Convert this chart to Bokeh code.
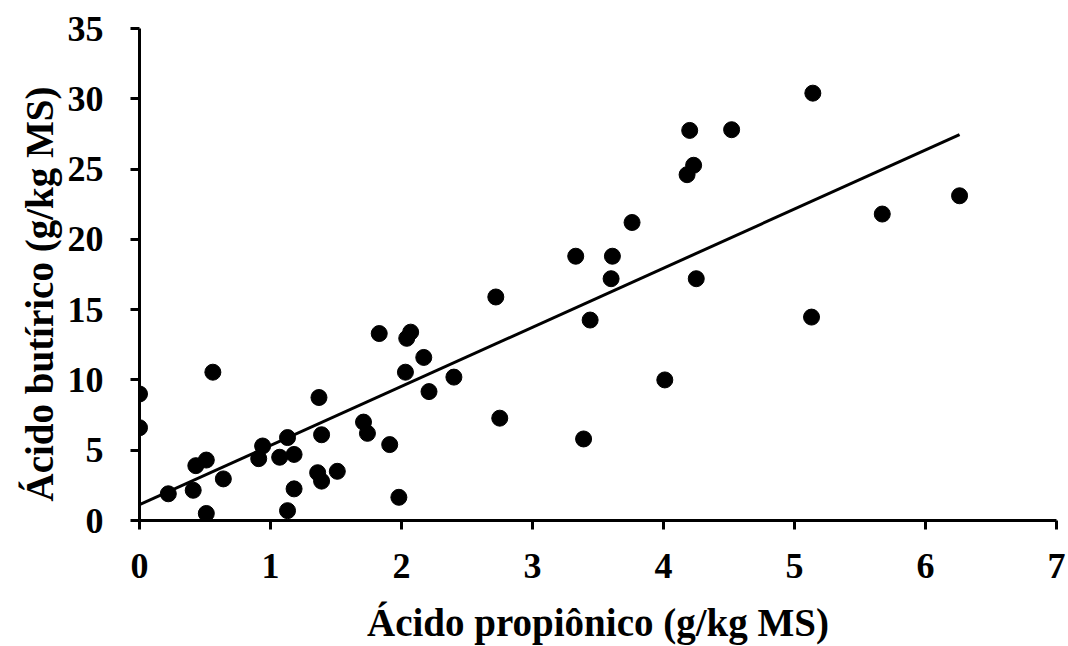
import numpy as np
from bokeh.plotting import figure
from bokeh.models import Range1d, FixedTicker, Title
from bokeh.embed import file_html
from bokeh.resources import INLINE

# Data
propionico = [0.00, 0.00, 0.22, 0.41, 0.43, 0.51, 0.51, 0.56, 0.64, 0.91,
              0.94, 1.07, 1.13, 1.18, 1.13, 1.18, 1.37, 1.36, 1.39, 1.39,
              1.51, 1.71, 1.74, 1.83, 1.91, 1.98, 2.04, 2.07, 2.03, 2.17,
              2.21, 2.40, 2.72, 2.75, 3.33, 3.39, 3.44, 3.60, 3.61, 3.76,
              4.01, 4.18, 4.20, 4.23, 4.25, 4.52, 5.14, 5.13, 5.67, 6.26]
butirico = [9.0, 6.6, 1.9, 2.15, 3.9, 4.3, 0.5, 10.55, 2.96, 4.4,
            5.3, 4.5, 5.9, 4.7, 0.7, 2.25, 8.75, 3.4, 6.1, 2.8,
            3.5, 7.0, 6.2, 13.3, 5.4, 1.65, 12.96, 13.4, 10.55, 11.6,
            9.17, 10.2, 15.9, 7.28, 18.8, 5.8, 14.26, 17.2, 18.8, 21.2,
            10.0, 24.6, 27.75, 25.27, 17.2, 27.8, 30.4, 14.47, 21.8, 23.1]

trend_intercept = 1.13
trend_slope = 4.205

x_ticks = [0, 1, 2, 3, 4, 5, 6, 7]
y_ticks = [0, 5, 10, 15, 20, 25, 30, 35]

x_label = "Ácido propiônico (g/kg MS)"
y_label = "Ácido butírico (g/kg MS)"

FONT = "Liberation Serif"

p = figure(width=1066, height=646, output_backend="svg", toolbar_location=None,
           x_range=Range1d(0, 7), y_range=Range1d(0, 35),
           min_border_left=139, min_border_right=10,
           min_border_top=28, min_border_bottom=124)

p.grid.visible = False
p.outline_line_color = None
p.background_fill_color = "white"
p.border_fill_color = "white"

# trend line
tx = np.array([0.0, max(propionico)])
ty = trend_intercept + trend_slope * tx
p.line(tx, ty, line_color="black", line_width=3)

# points
p.scatter(propionico, butirico, size=16, fill_color="black", line_color="black")

for ax in (p.xaxis[0], p.yaxis[0]):
    ax.axis_line_width = 3
    ax.axis_line_color = "black"
    ax.major_tick_line_width = 3
    ax.major_tick_line_color = "black"
    ax.major_tick_in = 0
    ax.major_tick_out = 9
    ax.minor_tick_line_color = None
    ax.major_label_text_font = FONT
    ax.major_label_text_font_style = "bold"
    ax.major_label_text_font_size = "36px"
    ax.major_label_text_color = "black"
    ax.axis_label_text_font = FONT
    ax.axis_label_text_font_style = "bold"
    ax.axis_label_text_font_size = "39px"
    ax.axis_label_text_color = "black"

p.xaxis[0].ticker = FixedTicker(ticks=x_ticks)
p.yaxis[0].ticker = FixedTicker(ticks=y_ticks)
p.xaxis[0].axis_label = x_label
p.xaxis[0].major_label_standoff = 24
p.yaxis[0].major_label_standoff = 27
p.xaxis[0].axis_label_standoff = 20

# y axis title as a side title (sits slightly below the frame centre)
p.add_layout(Title(text=y_label, align="left", offset=19, standoff=8,
                   text_font=FONT, text_font_style="bold",
                   text_font_size="39px", text_color="black"), "left")

open("out.html", "w").write(file_html(p, INLINE))
